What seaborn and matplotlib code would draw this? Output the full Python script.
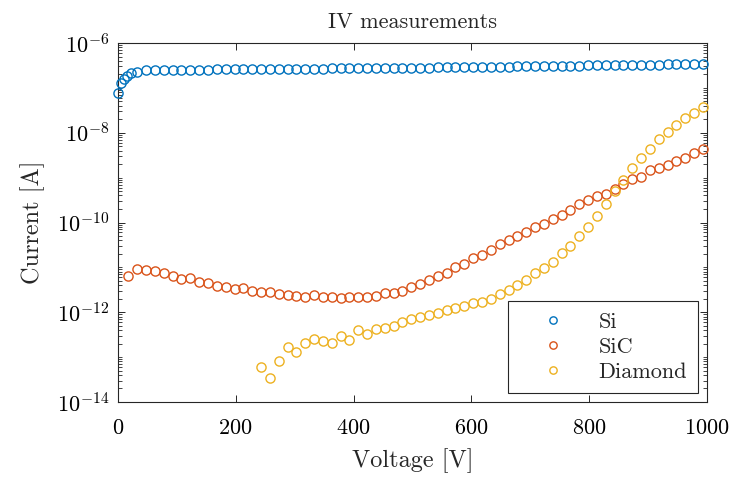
import matplotlib
matplotlib.use("Agg")
import matplotlib.pyplot as plt
import matplotlib.ticker as mticker
import seaborn as sns
import pandas as pd

# Voltage grid of the sweep [V]
grid_v = [18, 33, 48, 63, 78, 93, 108, 123, 138, 153, 168, 183, 198, 213, 228,
          243, 258, 273, 288, 303, 318, 333, 348, 363, 378, 393, 408, 423, 438,
          453, 468, 483, 498, 513, 528, 543, 558, 573, 588, 603, 618, 633, 648,
          663, 678, 693, 708, 723, 738, 753, 768, 783, 798, 813, 828, 843, 858,
          873, 888, 903, 918, 933, 948, 963, 978, 993]

# Si
si_v = [0, 5, 10, 16, 22] + grid_v[1:]
si_i = [7.6e-8, 1.26e-7, 1.55e-7, 1.85e-7, 2.1e-7,
        2.3e-7, 2.45e-7, 2.5e-7, 2.5e-7, 2.52e-7, 2.52e-7, 2.55e-7, 2.55e-7,
        2.56e-7, 2.58e-7, 2.58e-7, 2.6e-7, 2.6e-7, 2.62e-7, 2.62e-7, 2.64e-7,
        2.65e-7, 2.66e-7, 2.67e-7, 2.68e-7, 2.69e-7, 2.7e-7, 2.71e-7, 2.72e-7,
        2.73e-7, 2.74e-7, 2.75e-7, 2.76e-7, 2.77e-7, 2.78e-7, 2.8e-7, 2.81e-7,
        2.82e-7, 2.84e-7, 2.85e-7, 2.87e-7, 2.88e-7, 2.9e-7, 2.92e-7, 2.93e-7,
        2.95e-7, 2.97e-7, 2.98e-7, 3.0e-7, 3.02e-7, 3.04e-7, 3.06e-7, 3.08e-7,
        3.1e-7, 3.12e-7, 3.14e-7, 3.16e-7, 3.18e-7, 3.2e-7, 3.22e-7, 3.24e-7,
        3.26e-7, 3.28e-7, 3.3e-7, 3.32e-7, 3.34e-7, 3.36e-7, 3.38e-7, 3.4e-7,
        3.42e-7]

# SiC
sic_v = grid_v
sic_i = [6.3e-12, 9.1e-12, 8.7e-12, 8.1e-12, 7.4e-12, 6.3e-12, 5.5e-12, 5.7e-12,
         4.8e-12, 4.5e-12, 3.9e-12, 3.6e-12, 3.3e-12, 3.5e-12, 3.0e-12, 2.9e-12,
         2.8e-12, 2.5e-12, 2.45e-12, 2.3e-12, 2.2e-12, 2.4e-12, 2.15e-12, 2.15e-12,
         2.05e-12, 2.15e-12, 2.2e-12, 2.2e-12, 2.3e-12, 2.75e-12, 2.7e-12, 3.0e-12,
         3.6e-12, 4.3e-12, 5.2e-12, 6.3e-12, 7.6e-12, 1.0e-11, 1.2e-11, 1.6e-11,
         1.9e-11, 2.5e-11, 3.3e-11, 4.0e-11, 5.1e-11, 6.3e-11, 7.8e-11, 9.5e-11,
         1.2e-10, 1.5e-10, 1.9e-10, 2.6e-10, 3.1e-10, 3.8e-10, 4.3e-10, 5.5e-10,
         7.2e-10, 9.1e-10, 1.05e-9, 1.45e-9, 1.65e-9, 1.9e-9, 2.3e-9, 2.8e-9,
         3.5e-9, 4.3e-9]

# Diamond
dia_v = grid_v[15:]
dia_i = [5.9e-14, 3.4e-14, 8.3e-14, 1.7e-13, 1.3e-13, 2.1e-13, 2.5e-13, 2.3e-13,
         2.1e-13, 3.0e-13, 2.4e-13, 4.1e-13, 3.3e-13, 4.2e-13, 4.5e-13, 5.0e-13,
         6.0e-13, 7.0e-13, 7.9e-13, 8.5e-13, 9.5e-13, 1.1e-12, 1.25e-12, 1.35e-12,
         1.6e-12, 1.7e-12, 2.0e-12, 2.6e-12, 3.1e-12, 4.1e-12, 5.2e-12, 7.4e-12,
         9.6e-12, 1.35e-11, 2.1e-11, 3.0e-11, 5.0e-11, 8.1e-11, 1.4e-10, 2.6e-10,
         5.0e-10, 8.9e-10, 1.6e-9, 2.8e-9, 4.4e-9, 7.2e-9, 1.05e-8, 1.5e-8,
         2.1e-8, 2.8e-8, 3.7e-8]

series = [("Si", si_v, si_i, "#0072BD"),
          ("SiC", sic_v, sic_i, "#D95319"),
          ("Diamond", dia_v, dia_i, "#EDB120")]

sns.set_style("ticks")
plt.rcParams["font.family"] = ["cmr10", "DejaVu Serif"]
plt.rcParams["mathtext.fontset"] = "cm"
plt.rcParams["axes.formatter.use_mathtext"] = True
plt.rcParams["axes.unicode_minus"] = False

fig = plt.figure(figsize=(7.32, 4.78), dpi=100)
ax = fig.add_axes([0.161, 0.159, 0.805, 0.751])

for name, v, i, col in series:
    df = pd.DataFrame({"Voltage": v, "Current": i})
    sns.lineplot(data=df, x="Voltage", y="Current", ax=ax, label=name,
                 marker="o", linestyle="", markersize=6.6, markerfacecolor="none",
                 markeredgecolor=col, markeredgewidth=1.0, color=col, sort=False,
                 clip_on=False, zorder=3)

ax.set_yscale("log")
ax.set_xlim(0, 1000)
ax.set_ylim(1e-14, 1e-6)
ax.set_xticks([0, 200, 400, 600, 800, 1000])
ax.yaxis.set_major_locator(mticker.FixedLocator([1e-14, 1e-12, 1e-10, 1e-8, 1e-6]))
ax.yaxis.set_minor_locator(mticker.LogLocator(base=10, subs=list(range(1, 10)), numticks=100))
ax.yaxis.set_minor_formatter(mticker.NullFormatter())

for s in ax.spines.values():
    s.set_color("#262626")
    s.set_linewidth(0.8)
ax.tick_params(which="both", direction="in", top=True, right=True, colors="#262626",
               labelcolor="black", labelsize=16, pad=6)
ax.tick_params(axis="x", which="major", pad=12)
ax.tick_params(which="major", length=5, width=0.7)
ax.tick_params(which="minor", length=3, width=0.6)

ax.set_xlabel("Voltage [V]", fontsize=17.5, labelpad=7)
ax.set_ylabel("Current [A]", fontsize=17.5, labelpad=9)
ax.set_title("IV measurements", fontsize=16, pad=11)

leg = ax.legend(loc="lower right", fontsize=16, frameon=True, fancybox=False,
                edgecolor="#262626", framealpha=1, borderaxespad=0.4,
                handletextpad=0.55, handlelength=3.0, borderpad=0.5,
                labelspacing=0.25, markerscale=0.8)
leg.get_frame().set_linewidth(0.8)

fig.savefig("out.png", dpi=100)
